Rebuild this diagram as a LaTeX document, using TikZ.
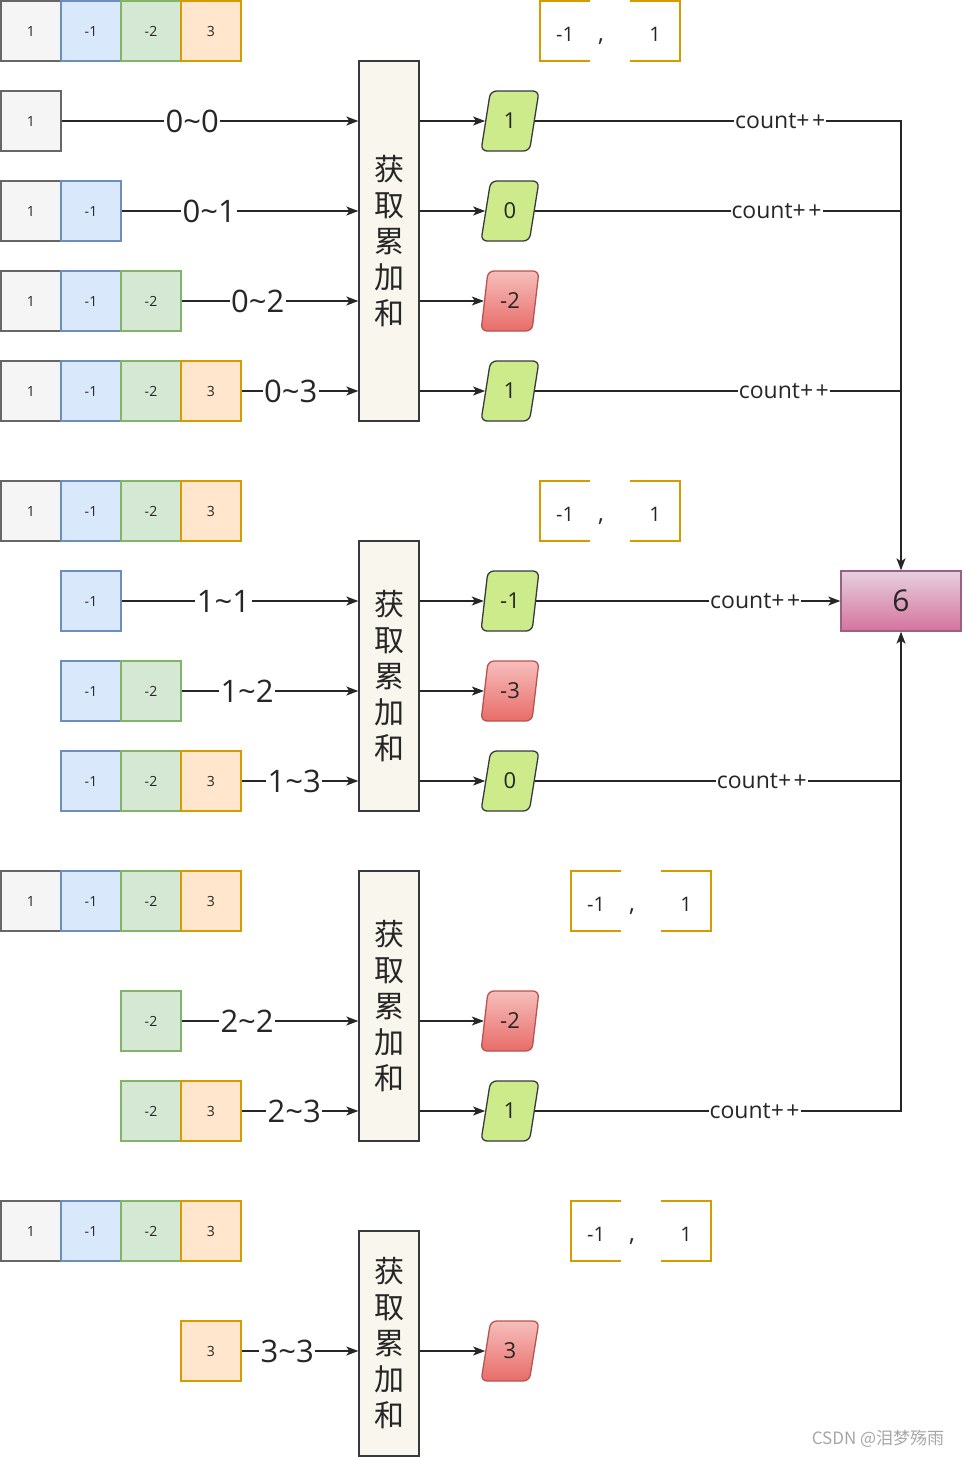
\documentclass[tikz,border=0pt]{standalone}
\usepackage{fontspec}
\setmainfont{Open Sans}
\newfontfamily\cjk{Noto Sans CJK SC}
\usetikzlibrary{positioning,shapes.geometric,arrows.meta}

\definecolor{grayfill}{HTML}{F5F5F5}
\definecolor{graydraw}{HTML}{666666}
\definecolor{bluefill}{HTML}{DAE8FC}
\definecolor{bluedraw}{HTML}{6C8EBF}
\definecolor{greenfill}{HTML}{D5E8D4}
\definecolor{greendraw}{HTML}{82B366}
\definecolor{orangefill}{HTML}{FFE6CC}
\definecolor{orangedraw}{HTML}{D79B00}
\definecolor{boxfill}{HTML}{F9F7ED}
\definecolor{boxdraw}{HTML}{36393D}
\definecolor{okfill}{HTML}{CDEB8B}
\definecolor{redtop}{HTML}{F6BEBC}
\definecolor{redbot}{HTML}{E86C68}
\definecolor{reddraw}{HTML}{B85450}
\definecolor{pinktop}{HTML}{E6D0DE}
\definecolor{pinkbot}{HTML}{D5739D}
\definecolor{pinkdraw}{HTML}{996185}

\newcommand{\upto}[2]{#1\textasciitilde#2}
\newcommand{\cntlabel}{count+\kern2.5pt+}

\tikzset{
  cell/.style={rectangle, draw, line width=1.5pt, minimum size=60pt, inner sep=0pt,
    text=black!85, font=\fontsize{14}{16}\selectfont},
  cone/.style={cell, fill=grayfill, draw=graydraw},
  ctwo/.style={cell, fill=bluefill, draw=bluedraw},
  cthree/.style={cell, fill=greenfill, draw=greendraw},
  cfour/.style={cell, fill=orangefill, draw=orangedraw},
  sumbox/.style={rectangle, draw=boxdraw, fill=boxfill, line width=1.3pt, minimum width=60pt,
    inner sep=0pt, align=center, text=black!85, font=\cjk\fontsize{30}{36}\selectfont},
  val/.style={trapezium, trapezium left angle=79, trapezium right angle=101, trapezium stretches=true,
    minimum width=58pt, minimum height=60pt, rounded corners=6pt, line width=1.3pt, inner sep=0pt,
    text=black!85, font=\fontsize{22}{26}\selectfont},
  ok/.style={val, draw=boxdraw, fill=okfill},
  bad/.style={val, draw=reddraw, top color=redtop, bottom color=redbot},
  pair/.style={draw=orangedraw, line width=1.5pt},
  pairtxt/.style={anchor=base, inner sep=0pt, text=black!85, font=\fontsize{20}{24}\selectfont},
  rng/.style={fill=white, inner sep=1.5pt, text=black!85, font=\fontsize{31}{34}\selectfont},
  cnt/.style={fill=white, inner sep=1pt, text=black!85, font=\fontsize{23}{26}\selectfont},
  arr/.style={-{Stealth[length=12pt, width=9pt, inset=3pt]}, line width=1.3pt, draw=black!85},
  line/.style={line width=1.3pt, draw=black!85}
}

\begin{document}
\begin{tikzpicture}[x=1pt, y=-1pt, node distance=60pt]
\useasboundingbox (0,0) rectangle (962,1457);

% header rows and the -1 , 1 pairs
\foreach \hy/\g in {31/1, 511/2, 901/3, 1231/4} {
  \node[cone] (h\g a) at (31,\hy) {1};
  \node[ctwo, right of=h\g a] (h\g b) {-1};
  \node[cthree, right of=h\g b] (h\g c) {-2};
  \node[cfour, right of=h\g c] (h\g d) {3};
}
\foreach \bx/\by/\g in {540/1/1, 540/481/2, 571/871/3, 571/1201/4} {
  \draw[pair] (\bx+50,\by) -- (\bx,\by) -- (\bx,\by+60) -- (\bx+50,\by+60);
  \draw[pair] (\bx+90,\by) -- (\bx+140,\by) -- (\bx+140,\by+60) -- (\bx+90,\by+60);
  \node[pairtxt] (pl\g) at (\bx+25,\by+40) {-1};
  \node[pairtxt, font=\fontsize{24}{26}\selectfont] (pc\g) at (\bx+61,\by+40) {,};
  \node[pairtxt] (pr\g) at (\bx+115,\by+40) {1};
}

% group 0
\node[cone] (r1a) at (31,121) {1};
\node[cone] (r2a) at (31,211) {1};
\node[ctwo, right of=r2a] (r2b) {-1};
\node[cone] (r3a) at (31,301) {1};
\node[ctwo, right of=r3a] (r3b) {-1};
\node[cthree, right of=r3b] (r3c) {-2};
\node[cone] (r4a) at (31,391) {1};
\node[ctwo, right of=r4a] (r4b) {-1};
\node[cthree, right of=r4b] (r4c) {-2};
\node[cfour, right of=r4c] (r4d) {3};
\node[sumbox, minimum height=360pt] (s1) at (389,241) {获\\取\\累\\加\\和};
\node[ok] (v1) at (510,121) {1};
\node[ok] (v2) at (510,211) {0};
\node[bad] (v3) at (510,301) {-2};
\node[ok] (v4) at (510,391) {1};

% group 1
\node[ctwo] (r5a) at (91,601) {-1};
\node[ctwo] (r6a) at (91,691) {-1};
\node[cthree, right of=r6a] (r6b) {-2};
\node[ctwo] (r7a) at (91,781) {-1};
\node[cthree, right of=r7a] (r7b) {-2};
\node[cfour, right of=r7b] (r7c) {3};
\node[sumbox, minimum height=270pt] (s2) at (389,676) {获\\取\\累\\加\\和};
\node[ok] (v5) at (510,601) {-1};
\node[bad] (v6) at (510,691) {-3};
\node[ok] (v7) at (510,781) {0};

% group 2
\node[cthree] (r8a) at (151,1021) {-2};
\node[cthree] (r9a) at (151,1111) {-2};
\node[cfour, right of=r9a] (r9b) {3};
\node[sumbox, minimum height=270pt] (s3) at (389,1006) {获\\取\\累\\加\\和};
\node[bad] (v8) at (510,1021) {-2};
\node[ok] (v9) at (510,1111) {1};

% group 3
\node[cfour] (r10a) at (211,1351) {3};
\node[sumbox, minimum height=225pt] (s4) at (389,1343.5) {获\\取\\累\\加\\和};
\node[bad] (v10) at (510,1351) {3};

\node[rectangle, draw=pinkdraw, top color=pinktop, bottom color=pinkbot, line width=1.3pt,
  minimum width=120pt, minimum height=60pt, text=black!85, font=\fontsize{30}{34}\selectfont] (total) at (901,601) {6};
\node[text=black!35, font=\cjk\fontsize{17}{20}\selectfont] (mark) at (878,1439) {CSDN @泪梦殇雨};

% ranges into the boxes
\draw[arr] (r1a) -- node[rng, pos=0.44] {\upto{0}{0}} (r1a -| s1.west);
\draw[arr] (r2b) -- node[rng, pos=0.37] {\upto{0}{1}} (r2b -| s1.west);
\draw[arr] (r3c) -- node[rng, pos=0.43] {\upto{0}{2}} (r3c -| s1.west);
\draw[arr] (r4d) -- node[rng, pos=0.42] {\upto{0}{3}} (r4d -| s1.west);
\draw[arr] (r5a) -- node[rng, pos=0.43] {\upto{1}{1}} (r5a -| s2.west);
\draw[arr] (r6b) -- node[rng, pos=0.37] {\upto{1}{2}} (r6b -| s2.west);
\draw[arr] (r7c) -- node[rng, pos=0.45] {\upto{1}{3}} (r7c -| s2.west);
\draw[arr] (r8a) -- node[rng, pos=0.37] {\upto{2}{2}} (r8a -| s3.west);
\draw[arr] (r9b) -- node[rng, pos=0.45] {\upto{2}{3}} (r9b -| s3.west);
\draw[arr] (r10a) -- node[rng, pos=0.39] {\upto{3}{3}} (r10a -| s4.west);

% boxes to sums
\draw[arr] (v1 -| s1.east) -- (v1.left side);
\draw[arr] (v2 -| s1.east) -- (v2.left side);
\draw[arr] (v3 -| s1.east) -- (v3.left side);
\draw[arr] (v4 -| s1.east) -- (v4.left side);
\draw[arr] (v5 -| s2.east) -- (v5.left side);
\draw[arr] (v6 -| s2.east) -- (v6.left side);
\draw[arr] (v7 -| s2.east) -- (v7.left side);
\draw[arr] (v8 -| s3.east) -- (v8.left side);
\draw[arr] (v9 -| s3.east) -- (v9.left side);
\draw[arr] (v10 -| s4.east) -- (v10.left side);

% counting
\draw[arr] (v1.right side) -- node[cnt, pos=0.67] {\cntlabel} (v1 -| total.north) -- (total.north);
\draw[line] (v2.right side) -- node[cnt, pos=0.66] {\cntlabel} (v2 -| total.north);
\draw[line] (v4.right side) -- node[cnt, pos=0.68] {\cntlabel} (v4 -| total.north);
\draw[arr] (v5.right side) -- node[cnt, pos=0.72] {\cntlabel} (total.west);
\draw[line] (v7.right side) -- node[cnt, pos=0.62] {\cntlabel} (v7 -| total.south);
\draw[arr] (v9.right side) -- node[cnt, pos=0.60] {\cntlabel} (v9 -| total.south) -- (total.south);
\end{tikzpicture}
\end{document}
